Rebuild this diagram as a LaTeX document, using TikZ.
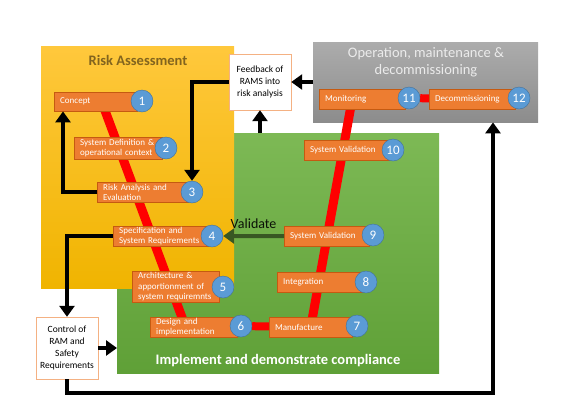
\documentclass[tikz,border=0pt]{standalone}
\usepackage{fontspec}
\setmainfont{Carlito}
\usepackage{tikz}
\usetikzlibrary{positioning, arrows.meta, calc}

\definecolor{stageorange}{RGB}{237,125,49}
\definecolor{stageedge}{RGB}{197,90,17}
\definecolor{numblue}{RGB}{91,155,213}
\definecolor{numedge}{RGB}{65,113,156}
\definecolor{boxedge}{RGB}{244,177,131}
\definecolor{riskgold}{RGB}{130,100,30}
\definecolor{valgreen}{RGB}{56,87,35}
\definecolor{graytext}{RGB}{235,235,235}

\pgfdeclarelayer{regions}
\pgfdeclarelayer{track}
\pgfsetlayers{regions,track,main}

\begin{document}
\begin{tikzpicture}[x=1pt, y=-1pt,
    region/.style={anchor=north west, inner sep=0pt},
    phase/.style={draw=stageedge, fill=stageorange, text=white, anchor=north west,
        font=\fontsize{9}{10.5}\selectfont, inner xsep=6pt, inner ysep=1pt, align=left},
    num/.style={circle, draw=numedge, fill=numblue, text=white, minimum size=22pt,
        inner sep=0pt, font=\fontsize{13}{13}\selectfont},
    infobox/.style={draw=boxedge, fill=white, align=center, inner sep=1pt,
        font=\fontsize{9.5}{12}\selectfont},
    vline/.style={red, line width=9pt},
    flow/.style={line width=4pt, -{Triangle[length=11pt,width=15pt]}}]

    \useasboundingbox (0,0) rectangle (580,410);

    % phase areas
    \begin{pgfonlayer}{regions}
    \node[region, minimum width=322pt, minimum height=240pt,
        top color={rgb,255:red,125;green,185;blue,85}, bottom color={rgb,255:red,95;green,160;blue,55}] (green) at (117,133) {};
    \node[region, minimum width=193pt, minimum height=242pt,
        top color={rgb,255:red,255;green,200;blue,60}, bottom color={rgb,255:red,240;green,180;blue,0}] (yellow) at (41,46) {};
    \node[region, minimum width=225pt, minimum height=80pt,
        top color={rgb,255:red,172;green,172;blue,172}, bottom color={rgb,255:red,140;green,140;blue,140}] (gray) at (313,42) {};
    \end{pgfonlayer}

    \node[text=riskgold, font=\fontsize{14.5}{17}\bfseries] (ratitle) at (138,60) {Risk Assessment};
    \node[text=white, font=\fontsize{14.5}{17}\bfseries] (imtitle) at (278,361) {Implement and demonstrate compliance};
    \node[text=graytext, align=center, font=\fontsize{14.5}{17}\selectfont] (optitle) at (426,62)
        {Operation, maintenance \&\\decommissioning};

    % phases
    \node[phase, text width=71pt, minimum height=19pt] (p1) at (54,92) {Concept};
    \node[phase, text width=76pt, minimum height=22pt] (p2) at (74,137) {System Definition \&\\operational context};
    \node[phase, text width=79pt, minimum height=20pt] (p3) at (97,182) {Risk Analysis and\\Evaluation};
    \node[phase, text width=83pt, minimum height=20pt] (p4) at (113,226) {Specification and\\System Requirements};
    \node[phase, text width=75pt, minimum height=31pt] (p5) at (132,271) {Architecture \&\\apportionment of\\system requiremnts};
    \node[phase, text width=75pt, minimum height=19pt] (p6) at (150,317) {Design and\\implementation};
    \node[phase, text width=71pt, minimum height=20pt] (p7) at (269,317) {Manufacture};
    \node[phase, text width=73pt, minimum height=20pt] (p8) at (277,272) {Integration};
    \node[phase, text width=73pt, minimum height=20pt] (p9) at (284,226) {System Validation};
    \node[phase, text width=73pt, minimum height=20pt] (p10) at (304,140) {System Validation};
    \node[phase, text width=74pt, minimum height=20pt] (p11) at (319,89) {Monitoring};
    \node[phase, text width=74pt, minimum height=20pt] (p12) at (429,89) {Decommissioning};

    \foreach \i/\x/\y in {1/142/101, 2/166/148, 3/192/192, 4/212/236, 5/223/287, 6/241/326,
        7/357/326, 8/366/282, 9/373/235, 10/393/150, 11/409/98, 12/519/98}
        \node[num] (n\i) at (\x,\y) {\i};

    % life cycle line
    \begin{pgfonlayer}{track}
    \draw[vline] ($(p1.center)+(6,0)$) -- ($(p6.center)+(-8,0)$);
    \draw[vline] (p7.center) -- ($(p11.center)+(-10,0)$);
    \draw[vline, line width=8pt] (n6) -- (p7);
    \draw[vline, line width=8pt] (n11) -- (p12);
    \end{pgfonlayer}

    % notes
    \node[infobox, minimum width=62pt, minimum height=56pt] (fb) at (260,82) {Feedback of\\RAMS into\\risk analysis};
    \node[infobox, minimum width=62pt, minimum height=62pt] (ctrl) at (67,348) {Control of\\RAM and\\Safety\\Requirements};

    % arrows
    \draw[flow] (p3.west) -| ($(p1.south west)+(9,0)$);
    \draw[flow] (fb.west) -| (n3.north);
    \draw[flow] (fb.east -| gray.west) -- (fb.east);
    \draw[flow] (fb.south |- green.north) -- (fb.south);
    \draw[flow] (p4.west) -| (ctrl.north);
    \draw[flow] (ctrl.east) -- (ctrl.east -| green.west);
    \coordinate (ret) at (493,393);
    \draw[flow] (ctrl.south) |- (ret) -- (ret |- gray.south);
    \draw[flow, valgreen] (p9.west) -- (n4.east) node[midway, above=2pt, text=black!80!valgreen,
        font=\fontsize{14}{16}\selectfont] (val) {Validate};
\end{tikzpicture}
\end{document}
